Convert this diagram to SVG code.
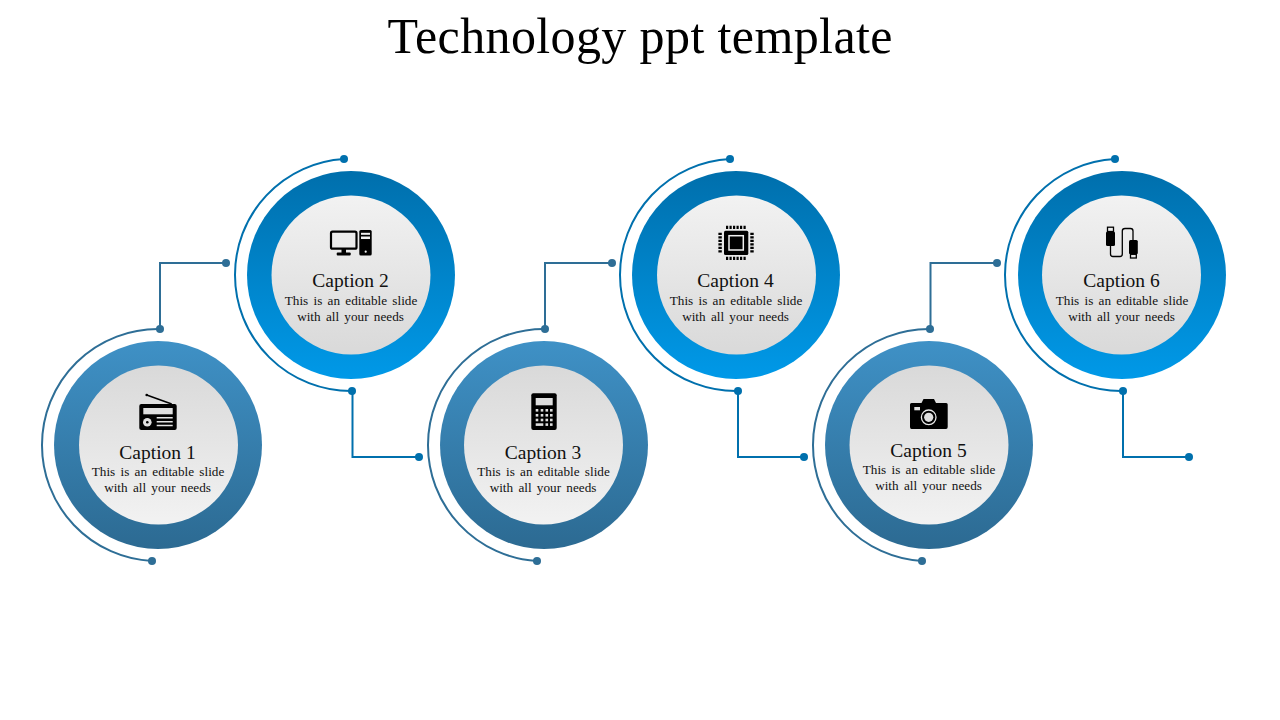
<svg xmlns="http://www.w3.org/2000/svg" width="1280" height="720" viewBox="0 0 1280 720">
<style>
text{font-family:"Liberation Serif","Noto Serif",serif;fill:#111;text-anchor:middle}
.title{font-size:50px;fill:#000}
.cap{font-size:19.5px}
.body{font-size:13.2px;word-spacing:2px}
.a{fill:none;stroke-width:2}
.o{stroke:#2e6e96}
.e{stroke:#0070ad}
.do{fill:#2e6e96}
.de{fill:#0070ad}
.w{fill:#dedede}
.ww{fill:#f0f0f0}
</style>
<defs>
<linearGradient id="ro" x1="0" y1="0" x2="0" y2="1"><stop offset="0" stop-color="#3f91c6"/><stop offset="1" stop-color="#2c6a92"/></linearGradient>
<linearGradient id="re" x1="0" y1="0" x2="0" y2="1"><stop offset="0" stop-color="#006fac"/><stop offset="1" stop-color="#0099e8"/></linearGradient>
<linearGradient id="io" x1="0" y1="0" x2="0" y2="1"><stop offset="0" stop-color="#d9d9d9"/><stop offset="1" stop-color="#f2f2f2"/></linearGradient>
<linearGradient id="ie" x1="0" y1="0" x2="0" y2="1"><stop offset="0" stop-color="#f2f2f2"/><stop offset="1" stop-color="#d9d9d9"/></linearGradient>
</defs>
<rect width="1280" height="720" fill="#fff"/>
<text class="title" x="640" y="53" textLength="505" lengthAdjust="spacing">Technology ppt template</text>

<g id="connectors">
<path class="a o" d="M160 329V263H226"/><circle class="do" cx="226" cy="263" r="4"/>
<path class="a e" d="M352.500 391V457H419"/><circle class="de" cx="419" cy="457" r="4"/>
<path class="a o" d="M545 329V263H612"/><circle class="do" cx="612" cy="263" r="4"/>
<path class="a e" d="M738 391V457H804"/><circle class="de" cx="804" cy="457" r="4"/>
<path class="a o" d="M930.500 329V263H997"/><circle class="do" cx="997" cy="263" r="4"/>
<path class="a e" d="M1123 391V457H1189"/><circle class="de" cx="1189" cy="457" r="4"/>
</g>

<g id="node1">
<path class="a o" d="M160 329A116 116 0 0 0 42 445A116 116 0 0 0 152 561"/><circle class="do" cx="160" cy="329" r="4"/><circle class="do" cx="152" cy="561" r="4"/>
<circle cx="158" cy="445" r="104" fill="url(#ro)"/><circle cx="158.500" cy="445" r="79.500" fill="url(#io)"/>
<path d="M146.700 395L171.700 404" stroke="#000" stroke-width="1.500" fill="none"/><circle cx="146.700" cy="395" r="1.300"/>
<rect x="139.300" y="404" width="37.400" height="26" rx="2"/>
<rect class="w" x="143.300" y="408" width="29.400" height="6.300"/>
<circle class="w" cx="147.300" cy="422.300" r="4.300"/><circle cx="147.300" cy="422.300" r="1.300"/>
<path d="M156.700 417.800H172.700M156.700 421.700H172.700M156.700 425.600H172.700" stroke="#e4e4e4" stroke-width="1.500" fill="none"/>
<text class="cap" x="157.500" y="459">Caption 1</text>
<text class="body" x="158" y="476">This is an editable slide</text>
<text class="body" x="157.500" y="492">with all your needs</text>
</g>

<g id="node2">
<path class="a e" d="M344 159A116 116 0 0 0 235 275A116 116 0 0 0 352 391"/><circle class="de" cx="344" cy="159" r="4"/><circle class="de" cx="352" cy="391" r="4"/>
<circle cx="351" cy="275" r="104" fill="url(#re)"/><circle cx="351" cy="275" r="79.500" fill="url(#ie)"/>
<rect x="331" y="231.700" width="25.500" height="17" rx="1.500" fill="none" stroke="#000" stroke-width="2.200"/>
<rect x="341.500" y="249" width="4.500" height="4"/><rect x="336.700" y="252.400" width="14" height="3" rx="1"/>
<rect x="359.300" y="230" width="12.400" height="25.500" rx="1.500"/>
<rect class="ww" x="361" y="232.800" width="9" height="2"/><rect class="ww" x="361" y="236.500" width="9" height="2.500"/><circle class="ww" cx="365.700" cy="251.700" r="1.100"/>
<text class="cap" x="350.500" y="287">Caption 2</text>
<text class="body" x="351" y="305">This is an editable slide</text>
<text class="body" x="350.500" y="321">with all your needs</text>
</g>

<g id="node3">
<path class="a o" d="M545 329A116 116 0 0 0 428 445A116 116 0 0 0 537 561"/><circle class="do" cx="545" cy="329" r="4"/><circle class="do" cx="537" cy="561" r="4"/>
<circle cx="544" cy="445" r="104" fill="url(#ro)"/><circle cx="543.500" cy="445" r="79.500" fill="url(#io)"/>
<rect x="531.300" y="393.300" width="25.400" height="36.700" rx="2"/>
<rect class="w" x="535.700" y="398" width="17" height="7.300"/>
<g class="w"><rect x="535.700" y="409" width="2.600" height="2.600"/><rect x="540.700" y="409" width="2.600" height="2.600"/><rect x="545.500" y="409" width="2.600" height="2.600"/><rect x="550" y="409" width="2.600" height="2.600"/>
<rect x="535.700" y="414" width="2.600" height="2.600"/><rect x="540.700" y="414" width="2.600" height="2.600"/><rect x="545.500" y="414" width="2.600" height="2.600"/><rect x="550" y="414" width="2.600" height="2.600"/>
<rect x="535.700" y="418.700" width="2.600" height="2.600"/><rect x="540.700" y="418.700" width="2.600" height="2.600"/><rect x="545.500" y="418.700" width="2.600" height="2.600"/><rect x="550" y="418.700" width="2.600" height="2.600"/>
<rect x="535.700" y="423.300" width="7.600" height="2.600"/><rect x="545.500" y="423.300" width="2.600" height="2.600"/><rect x="550" y="423.300" width="2.600" height="2.600"/></g>
<text class="cap" x="543" y="459">Caption 3</text>
<text class="body" x="543.500" y="476">This is an editable slide</text>
<text class="body" x="543" y="492">with all your needs</text>
</g>

<g id="node4">
<path class="a e" d="M730 159A116 116 0 0 0 620 275A116 116 0 0 0 738 391"/><circle class="de" cx="730" cy="159" r="4"/><circle class="de" cx="738" cy="391" r="4"/>
<circle cx="736" cy="275" r="104" fill="url(#re)"/><circle cx="736.500" cy="275" r="79.500" fill="url(#ie)"/>
<rect x="724" y="230.700" width="24.300" height="24.300" rx="1.500"/>
<rect x="729" y="235.700" width="14.300" height="14.300" fill="none" stroke="#f0f0f0" stroke-width="1.500"/>
<path d="M726 227.400H746.700M726 258.400H746.700M720.100 232.700V253M752 232.700V253" stroke="#000" stroke-width="3.400" stroke-dasharray="2.200 1.300" fill="none"/>
<text class="cap" x="735.500" y="287">Caption 4</text>
<text class="body" x="736" y="305">This is an editable slide</text>
<text class="body" x="735.500" y="321">with all your needs</text>
</g>

<g id="node5">
<path class="a o" d="M930 329A116 116 0 0 0 813 445A116 116 0 0 0 922 561"/><circle class="do" cx="930" cy="329" r="4"/><circle class="do" cx="922" cy="561" r="4"/>
<circle cx="929" cy="445" r="104" fill="url(#ro)"/><circle cx="929" cy="445" r="79.500" fill="url(#io)"/>
<path d="M911.500 403H921.500L923.500 399H934L936 403H946.200Q947.700 403 947.700 404.500V427Q947.700 429 946 429H911.500Q910 429 910 427V404.500Q910 403 911.500 403Z"/>
<rect class="w" x="914.300" y="407" width="5.700" height="3.300"/>
<circle cx="928.700" cy="417.300" r="7.300" fill="none" stroke="#e8e8e8" stroke-width="1.300"/>
<circle class="w" cx="928.700" cy="417.300" r="4.600"/>
<text class="cap" x="928.500" y="457">Caption 5</text>
<text class="body" x="929" y="474">This is an editable slide</text>
<text class="body" x="928.500" y="490">with all your needs</text>
</g>

<g id="node6">
<path class="a e" d="M1115 159A116 116 0 0 0 1005 275A116 116 0 0 0 1123 391"/><circle class="de" cx="1115" cy="159" r="4"/><circle class="de" cx="1123" cy="391" r="4"/>
<circle cx="1122" cy="275" r="104" fill="url(#re)"/><circle cx="1121.500" cy="275" r="79.500" fill="url(#ie)"/>
<path d="M1110.500 246V254Q1110.500 256.500 1113 256.500H1120Q1122.300 256.500 1122.300 254V231Q1122.300 228.500 1125 228.500H1130.500Q1133 228.500 1133 231V240" fill="none" stroke="#000" stroke-width="1.300"/>
<rect x="1106" y="231.500" width="9" height="14.500" rx="1.500"/><rect x="1107.500" y="227.200" width="6" height="4.300" fill="none" stroke="#000" stroke-width="1.300"/>
<rect x="1129" y="240" width="8.800" height="14.300" rx="1.500"/><rect x="1130.500" y="254.300" width="5.800" height="3.700" fill="none" stroke="#000" stroke-width="1.300"/>
<text class="cap" x="1121.500" y="287">Caption 6</text>
<text class="body" x="1122" y="305">This is an editable slide</text>
<text class="body" x="1121.500" y="321">with all your needs</text>
</g>
</svg>
